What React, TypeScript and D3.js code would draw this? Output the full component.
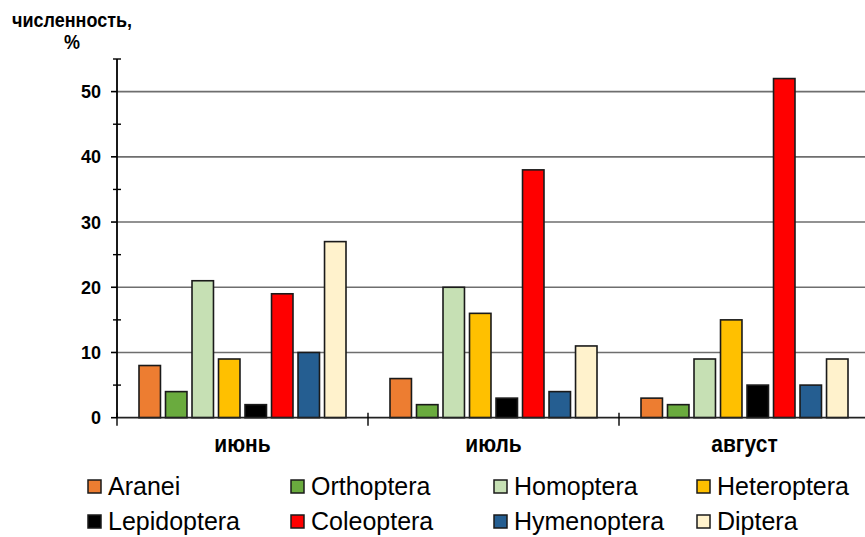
import React from "react";
import * as d3 from "d3";

const months = ["июнь", "июль", "август"];
const species = [
  "Aranei",
  "Orthoptera",
  "Homoptera",
  "Heteroptera",
  "Lepidoptera",
  "Coleoptera",
  "Hymenoptera",
  "Diptera",
];
const speciesColors = [
  "#ed7d31",
  "#6aab3e",
  "#c6e0b4",
  "#ffc000",
  "#000000",
  "#ff0000",
  "#255e91",
  "#fff2cc",
];
// values in the same order as species
const juneValues = [8, 4, 21, 9, 2, 19, 10, 27];
const julyValues = [6, 2, 20, 16, 3, 38, 4, 11];
const augustValues = [3, 2, 9, 15, 5, 52, 5, 9];
const monthValues = [juneValues, julyValues, augustValues];

const majorTicks = [0, 10, 20, 30, 40, 50];
const minorTicks = [5, 15, 25, 35, 45, 55];

const W = 865;
const H = 537;
const FONT = "'Liberation Sans', Arial, sans-serif";

export default function App() {
  const y = d3.scaleLinear().domain([0, 55]).range([417.7, 59]);
  const x0 = d3.scaleBand<string>().domain(months).range([117, 870]).padding(0);
  const x1 = d3
    .scaleBand<string>()
    .domain(species)
    .range([0, x0.bandwidth()])
    .paddingInner(0.19)
    .paddingOuter(0.83);

  const axisX = x0.range()[0];
  const legendCols = [88, 291, 494, 697];
  const legendRows = [495, 530];

  return (
    <svg
      width={W}
      height={H}
      style={{ position: "absolute", left: 0, top: 0, background: "#fff" }}
      fontFamily={FONT}
    >
      {/* y label */}
      <text
        transform="translate(72,27) scale(1,1.1)"
        textAnchor="middle"
        fontSize={18}
        fontWeight="bold"
      >
        численность,
      </text>
      <text
        transform="translate(72,49) scale(1,1.1)"
        textAnchor="middle"
        fontSize={18}
        fontWeight="bold"
      >
        %
      </text>

      {/* gridlines */}
      {majorTicks
        .filter((t) => t > 0)
        .map((t) => (
          <line
            key={"g" + t}
            x1={axisX}
            x2={W}
            y1={y(t)}
            y2={y(t)}
            stroke="#6e6e6e"
            strokeWidth={1.6}
          />
        ))}

      {/* bars */}
      {months.map((m, mi) => (
        <g key={m} transform={`translate(${x0(m)},0)`}>
          {species.map((s, si) => {
            const v = monthValues[mi][si];
            return (
              <rect
                key={s}
                x={x1(s)}
                y={y(v)}
                width={x1.bandwidth()}
                height={y(0) - y(v)}
                fill={speciesColors[si]}
                stroke="#1a1a1a"
                strokeWidth={1.6}
              />
            );
          })}
        </g>
      ))}

      {/* y axis */}
      <line x1={axisX} x2={axisX} y1={y(55)} y2={y(0)} stroke="#000" strokeWidth={1.8} />
      {majorTicks.map((t) => (
        <g key={"t" + t}>
          <line x1={axisX - 6} x2={axisX} y1={y(t)} y2={y(t)} stroke="#000" strokeWidth={1.6} />
          <text
            x={axisX - 16}
            y={y(t)}
            dy="0.36em"
            textAnchor="end"
            fontSize={18}
            fontWeight="bold"
          >
            {t}
          </text>
        </g>
      ))}
      {minorTicks.map((t) => (
        <line
          key={"m" + t}
          x1={axisX - 4}
          x2={axisX + 4}
          y1={y(t)}
          y2={y(t)}
          stroke="#000"
          strokeWidth={1.4}
        />
      ))}

      {/* x axis */}
      <line x1={axisX} x2={W} y1={y(0)} y2={y(0)} stroke="#222" strokeWidth={1.8} />
      {months.map((m) => (
        <line
          key={"xt" + m}
          x1={x0(m)!}
          x2={x0(m)!}
          y1={y(0) - 5}
          y2={y(0) + 8}
          stroke="#000"
          strokeWidth={1.4}
        />
      ))}
      {months.map((m) => (
        <text
          key={"xl" + m}
          transform={`translate(${x0(m)! + x0.bandwidth() / 2},452) scale(1,1.18)`}
          textAnchor="middle"
          fontSize={21}
          fontWeight="bold"
        >
          {m}
        </text>
      ))}

      {/* legend */}
      {species.map((s, i) => {
        const cx = legendCols[i % 4];
        const by = legendRows[Math.floor(i / 4)];
        return (
          <g key={"l" + s}>
            <rect
              x={cx}
              y={by - 15}
              width={13}
              height={13}
              fill={speciesColors[i]}
              stroke="#1a1a1a"
              strokeWidth={1.5}
            />
            <text transform={`translate(${cx + 20},${by}) scale(1,1.05)`} fontSize={25}>
              {s}
            </text>
          </g>
        );
      })}
    </svg>
  );
}
